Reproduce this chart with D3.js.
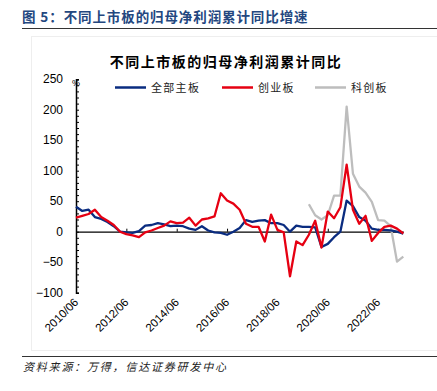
<!DOCTYPE html>
<html>
<head>
<meta charset="utf-8">
<script src="https://cdn.jsdelivr.net/npm/d3@7"></script>
<style>
  body { margin: 0; background: #fff; }
  text { font-family: "Liberation Sans", Arial, sans-serif; }
  .cjk { font-family: "Noto Sans CJK SC", sans-serif; }
</style>
</head>
<body>
<div id="chart"></div>
<script>
// quarterly dates, 2010/06 .. 2023/06
var quarters = [
  "2010/06","2010/09","2010/12","2011/03","2011/06","2011/09","2011/12","2012/03",
  "2012/06","2012/09","2012/12","2013/03","2013/06","2013/09","2013/12","2014/03",
  "2014/06","2014/09","2014/12","2015/03","2015/06","2015/09","2015/12","2016/03",
  "2016/06","2016/09","2016/12","2017/03","2017/06","2017/09","2017/12","2018/03",
  "2018/06","2018/09","2018/12","2019/03","2019/06","2019/09","2019/12","2020/03",
  "2020/06","2020/09","2020/12","2021/03","2021/06","2021/09","2021/12","2022/03",
  "2022/06","2022/09","2022/12","2023/03","2023/06"
];

var mainBoard = [41, 34, 36, 24, 21, 16, 9, 0, -1, -2, 1, 10, 11, 14, 12, 9, 10, 9, 5, 3,
  9, 2, -1, -2, -5, 0, 6, 19, 16, 18, 19, 14, 14, 11, 0, 10, 8, 8, 7, -25,
  -20, -9, 0, 51, 42, 24, 18, 5, 3, 3, 2, 0, -3];

var chinext = [23, 26, 29, 36, 24, 18, 11, 0, -4, -6, -9, -1, 2, 6, 10, 17, 14, 15, 23, 10,
  20, 22, 25, 63, 51, 46, 36, 13, 8, 8, -16, 28, 3, -1, -73, -16, -22, -5, 18, -26,
  33, 22, 40, 110, 36, 13, 26, -15, -2, 8, 10, 5, -3];

var star = [null, null, null, null, null, null, null, null, null, null,
  null, null, null, null, null, null, null, null, null, null,
  null, null, null, null, null, null, null, null, null, null,
  null, null, null, null, null, null, null, 45, 27, 20,
  27, 59, 59, 205, 95, 74, 64, 49, 19, 18, 9, -49, -41];

var seriesNames = ["全部主板", "创业板", "科创板"];
var seriesColors = ["#0a2c80", "#e60012", "#bdbdbd"];
var xTickLabels = ["2010/06", "2012/06", "2014/06", "2016/06", "2018/06", "2020/06", "2022/06"];
var yTicks = [-100, -50, 0, 50, 100, 150, 200, 250];

var width = 437, height = 391;

var svg = d3.select("#chart").append("svg")
    .attr("width", width)
    .attr("height", height);

// figure heading
svg.append("text")
    .attr("class", "cjk")
    .attr("x", 22)
    .attr("y", 22)
    .attr("fill", "#23477f")
    .attr("font-size", 13.5)
    .attr("font-weight", "bold")
    .attr("letter-spacing", 0.9)
    .text("图 5：不同上市板的归母净利润累计同比增速");

svg.append("line")
    .attr("x1", 22).attr("x2", 437)
    .attr("y1", 28.5).attr("y2", 28.5)
    .attr("stroke", "#333").attr("stroke-width", 1);

// faint chart frame
svg.append("rect")
    .attr("x", 31.5).attr("y", 36.5)
    .attr("width", 420).attr("height", 314)
    .attr("fill", "none")
    .attr("stroke", "#eeeeee");

svg.append("text")
    .attr("class", "cjk")
    .attr("x", 226)
    .attr("y", 67)
    .attr("text-anchor", "middle")
    .attr("font-size", 14)
    .attr("font-weight", "bold")
    .attr("letter-spacing", 1.5)
    .attr("fill", "#000")
    .text("不同上市板的归母净利润累计同比");

var x = d3.scaleLinear()
    .domain([0, quarters.length - 1])
    .range([76, 403.3]);

var y = d3.scaleLinear()
    .domain([-100, 250])
    .range([292.7, 79.2]);

// y axis with minor ticks every 10
var yAxis = d3.axisRight(y)
    .tickValues(d3.range(-100, 251, 10))
    .tickSize(3)
    .tickFormat("");

svg.append("g")
    .attr("transform", "translate(" + x(0) + ",0)")
    .call(yAxis)
    .call(function(g) {
        g.select(".domain").attr("stroke", "#000").attr("stroke-width", 1.5);
        g.selectAll(".tick line").attr("stroke", "#000").attr("stroke-width", 1);
    });

svg.append("g")
    .selectAll("text")
    .data(yTicks)
    .enter()
    .append("text")
    .attr("x", 63)
    .attr("y", function(d) { return y(d) + 4; })
    .attr("text-anchor", "end")
    .attr("font-size", 12)
    .attr("fill", "#000")
    .text(function(d) { return d < 0 ? "\u2212" + Math.abs(d) : d; });

svg.append("text")
    .attr("x", x(0))
    .attr("y", y(250) + 7)
    .attr("text-anchor", "middle")
    .attr("font-size", 9)
    .text("%");

// x axis along zero line
var xTickIdx = xTickLabels.map(function(l) { return quarters.indexOf(l); });

var xAxis = d3.axisTop(x)
    .tickValues(xTickIdx)
    .tickSize(3)
    .tickSizeOuter(0)
    .tickFormat("");

svg.append("g")
    .attr("transform", "translate(0," + y(0) + ")")
    .call(xAxis)
    .call(function(g) {
        g.select(".domain").attr("stroke", "#000").attr("stroke-width", 1.2);
        g.selectAll(".tick line").attr("stroke", "#000");
    });

svg.append("g")
    .selectAll("text")
    .data(xTickIdx)
    .enter()
    .append("text")
    .attr("transform", function(d) {
        return "translate(" + (x(d) + 3) + ",303) rotate(-45)";
    })
    .attr("text-anchor", "end")
    .attr("font-size", 11.5)
    .attr("fill", "#000")
    .text(function(d) { return quarters[d]; });

// lines
var line = d3.line()
    .defined(function(d) { return d != null; })
    .x(function(d, i) { return x(i); })
    .y(function(d) { return y(d); });

var allSeries = [mainBoard, chinext, star];
var drawOrder = [2, 0, 1];

svg.append("g")
    .selectAll("path")
    .data(drawOrder)
    .enter()
    .append("path")
    .attr("fill", "none")
    .attr("stroke", function(k) { return seriesColors[k]; })
    .attr("stroke-width", 2.3)
    .attr("stroke-linejoin", "round")
    .attr("d", function(k) { return line(allSeries[k]); });

// legend
var legendX = [115, 222, 315];
var legend = svg.append("g");

legend.selectAll("line")
    .data(seriesNames)
    .enter()
    .append("line")
    .attr("x1", function(d, i) { return legendX[i]; })
    .attr("x2", function(d, i) { return legendX[i] + 31; })
    .attr("y1", 87.5).attr("y2", 87.5)
    .attr("stroke", function(d, i) { return seriesColors[i]; })
    .attr("stroke-width", 2.5);

legend.selectAll("text")
    .data(seriesNames)
    .enter()
    .append("text")
    .attr("class", "cjk")
    .attr("x", function(d, i) { return legendX[i] + 36; })
    .attr("y", 92)
    .attr("font-size", 11)
    .attr("letter-spacing", 1.3)
    .attr("fill", "#222")
    .text(function(d) { return d; });

// source
svg.append("line")
    .attr("x1", 22).attr("x2", 437)
    .attr("y1", 356.5).attr("y2", 356.5)
    .attr("stroke", "#333").attr("stroke-width", 1);

svg.append("text")
    .attr("class", "cjk")
    .attr("x", 23)
    .attr("y", 371)
    .attr("font-size", 11)
    .attr("font-style", "italic")
    .attr("letter-spacing", 1.8)
    .attr("fill", "#222")
    .text("资料来源：万得，信达证券研发中心");
</script>
</body>
</html>
